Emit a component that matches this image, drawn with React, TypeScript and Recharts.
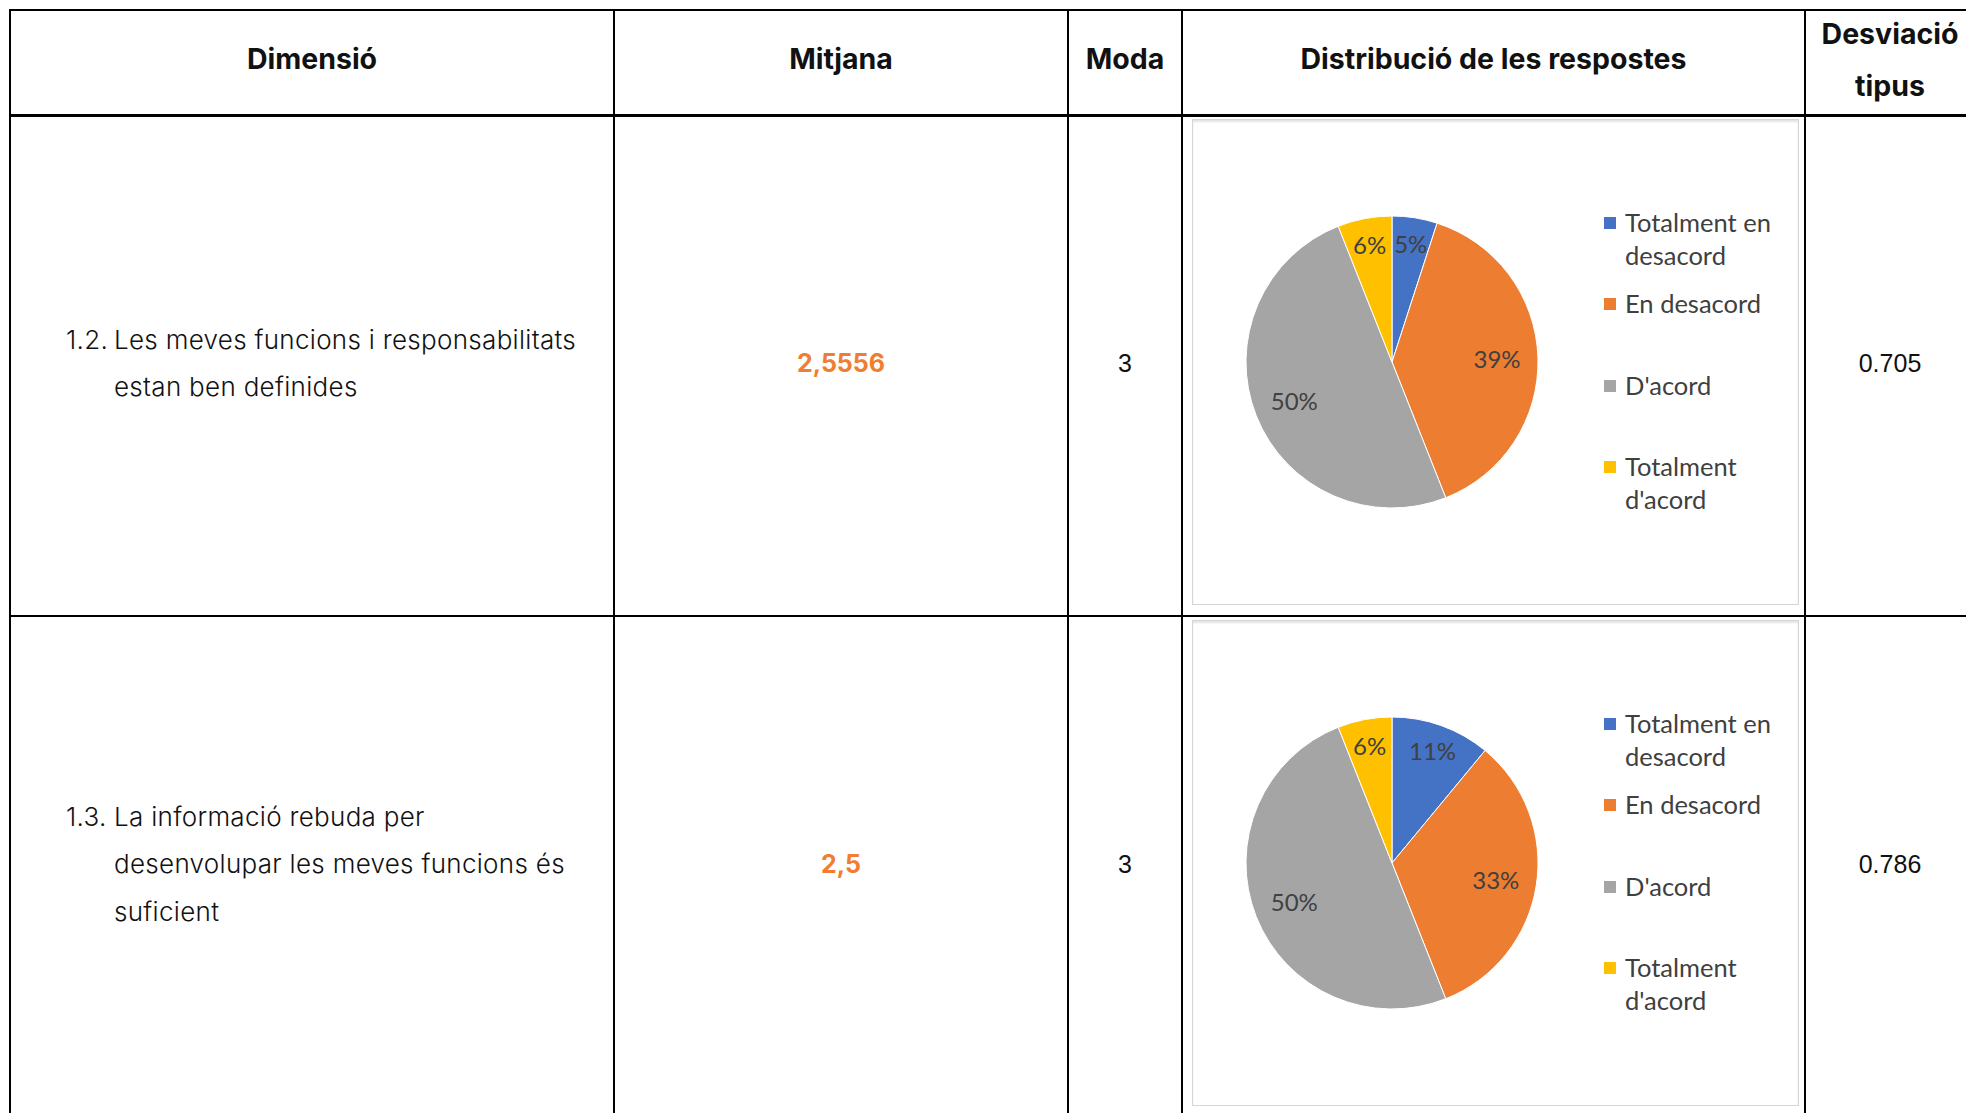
import { PieChart, Pie, Cell, Legend } from 'recharts';

// answer categories and colours (Excel default palette)
const categories = ['Totalment en desacord', 'En desacord', "D'acord", "Totalment d'acord"];
const sliceColors = ['#4472C4', '#ED7D31', '#A5A5A5', '#FFC000'];

// table columns
const headers = ['Dimensió', 'Mitjana', 'Moda', 'Distribució de les respostes', 'Desviació tipus'];

// rows
const dimensionNumbers = ['1.2.', '1.3.'];
const dimensionLines = [
  ['Les meves funcions i responsabilitats', 'estan ben definides'],
  ['La informació rebuda per', 'desenvolupar les meves funcions és', 'suficient'],
];
const means = ['2,5556', '2,5'];
const modes = ['3', '3'];
const stdDevs = ['0.705', '0.786'];

// percentages as shown on the pies
const shares12 = [5, 39, 50, 6];
const shares13 = [11, 33, 50, 6];
const rowShares = [shares12, shares13];

const COLS = [10, 614, 1068, 1182, 1805, 1975];
const ROWS = [10, 115, 616, 1117];
const RAD = Math.PI / 180;

const renderLabel = (props: any) => {
  const { cx, cy, midAngle, outerRadius, value } = props;
  const r = value < 15 ? outerRadius * 0.82 : outerRadius * 0.72;
  const x = cx + r * Math.cos(-midAngle * RAD);
  const y = cy + r * Math.sin(-midAngle * RAD);
  return (
    <text
      x={x}
      y={y}
      fill="#404040"
      fontSize={24}
      fontFamily="Lato, 'Noto Sans', sans-serif"
      textAnchor="middle"
      dominantBaseline="central"
    >
      {`${value}%`}
    </text>
  );
};

const legendGaps = [15, 49, 48, 0];

const renderLegend = () => (
  <div style={{ width: 190 }}>
    {categories.map((c, i) => (
      <div
        key={c}
        style={{
          position: 'relative',
          paddingLeft: 21,
          marginBottom: legendGaps[i],
          fontFamily: "Lato, 'Noto Sans', sans-serif",
          fontSize: 25.5,
          lineHeight: '33px',
          color: '#404040',
        }}
      >
        <span
          style={{
            position: 'absolute',
            left: 0,
            top: 11,
            width: 12,
            height: 12,
            background: sliceColors[i],
          }}
        />
        {c}
      </div>
    ))}
  </div>
);

function DistributionPie({ shares }: { shares: number[] }) {
  const data = categories.map((name, i) => ({ name, value: shares[i] }));
  return (
    <div
      style={{
        width: 607,
        height: 486,
        background: '#fff',
        border: '1px solid #d6d6d6',
        boxShadow: 'inset 0 2px 2px #e4e4e4',
        boxSizing: 'border-box',
      }}
    >
      <PieChart width={605} height={484}>
        <Pie
          data={data}
          dataKey="value"
          nameKey="name"
          cx={194}
          cy={237}
          outerRadius={146}
          startAngle={90}
          endAngle={-270}
          stroke="#ffffff"
          strokeWidth={1}
          label={renderLabel}
          labelLine={false}
          isAnimationActive={false}
        >
          {data.map((d, i) => (
            <Cell key={d.name} fill={sliceColors[i]} />
          ))}
        </Pie>
        <Legend
          content={renderLegend}
          wrapperStyle={{ position: 'absolute', left: 411, top: 86, width: 200 }}
        />
      </PieChart>
    </div>
  );
}

const cell = (ci: number, ri: number): React.CSSProperties => ({
  position: 'absolute',
  left: COLS[ci],
  top: ROWS[ri],
  width: COLS[ci + 1] - COLS[ci],
  height: ROWS[ri + 1] - ROWS[ri],
  display: 'flex',
  alignItems: 'center',
  justifyContent: 'center',
  boxSizing: 'border-box',
});

export default function App() {
  const bodyFont = "Inter, 'Noto Sans', sans-serif";
  return (
    <div
      style={{
        position: 'fixed',
        left: 0,
        top: 0,
        width: 1966,
        height: 1113,
        overflow: 'hidden',
        background: '#fff',
        fontFamily: bodyFont,
        color: '#111',
      }}
    >
      {/* header */}
      {headers.map((h, i) => (
        <div
          key={h}
          style={{
            ...cell(i, 0),
            fontWeight: 700,
            fontSize: 28.5,
            lineHeight: '52px',
            textAlign: 'center',
            padding: i === 4 ? '0 4px 5px' : '0 0 7px',
          }}
        >
          {h}
        </div>
      ))}

      {/* rows */}
      {dimensionNumbers.map((num, r) => (
        <div key={num}>
          <div style={{ ...cell(0, r + 1), justifyContent: 'flex-start', paddingBottom: 5 }}>
            <div
              style={{
                display: 'flex',
                fontSize: 26,
                fontWeight: 300,
                letterSpacing: 0.3,
                lineHeight: '47.5px',
                paddingLeft: 56,
              }}
            >
              <span style={{ width: 48, flex: 'none' }}>{num}</span>
              <div>
                {dimensionLines[r].map((l) => (
                  <div key={l}>{l}</div>
                ))}
              </div>
            </div>
          </div>
          <div style={{ ...cell(1, r + 1), color: '#F07D32', fontWeight: 700, fontSize: 25, paddingBottom: 5 }}>
            {means[r]}
          </div>
          <div
            style={{ ...cell(2, r + 1), fontSize: 25, fontFamily: "'Liberation Sans', Arial, sans-serif", paddingBottom: 5 }}
          >
            {modes[r]}
          </div>
          <div style={{ ...cell(3, r + 1), alignItems: 'flex-start', justifyContent: 'flex-start', padding: '4px 0 0 10px' }}>
            <DistributionPie shares={rowShares[r]} />
          </div>
          <div
            style={{ ...cell(4, r + 1), fontSize: 25, fontFamily: "'Liberation Sans', Arial, sans-serif", paddingBottom: 5 }}
          >
            {stdDevs[r]}
          </div>
        </div>
      ))}

      {/* grid lines */}
      {COLS.map((x) => (
        <div
          key={'v' + x}
          style={{ position: 'absolute', left: x - 1, top: ROWS[0] - 1, width: 2, height: ROWS[3] - ROWS[0], background: '#000' }}
        />
      ))}
      {ROWS.map((y, i) => (
        <div
          key={'h' + y}
          style={{
            position: 'absolute',
            left: COLS[0] - 1,
            top: y - 1,
            width: COLS[5] - COLS[0] + 2,
            height: i === 1 ? 3 : 2,
            background: '#000',
          }}
        />
      ))}
    </div>
  );
}
